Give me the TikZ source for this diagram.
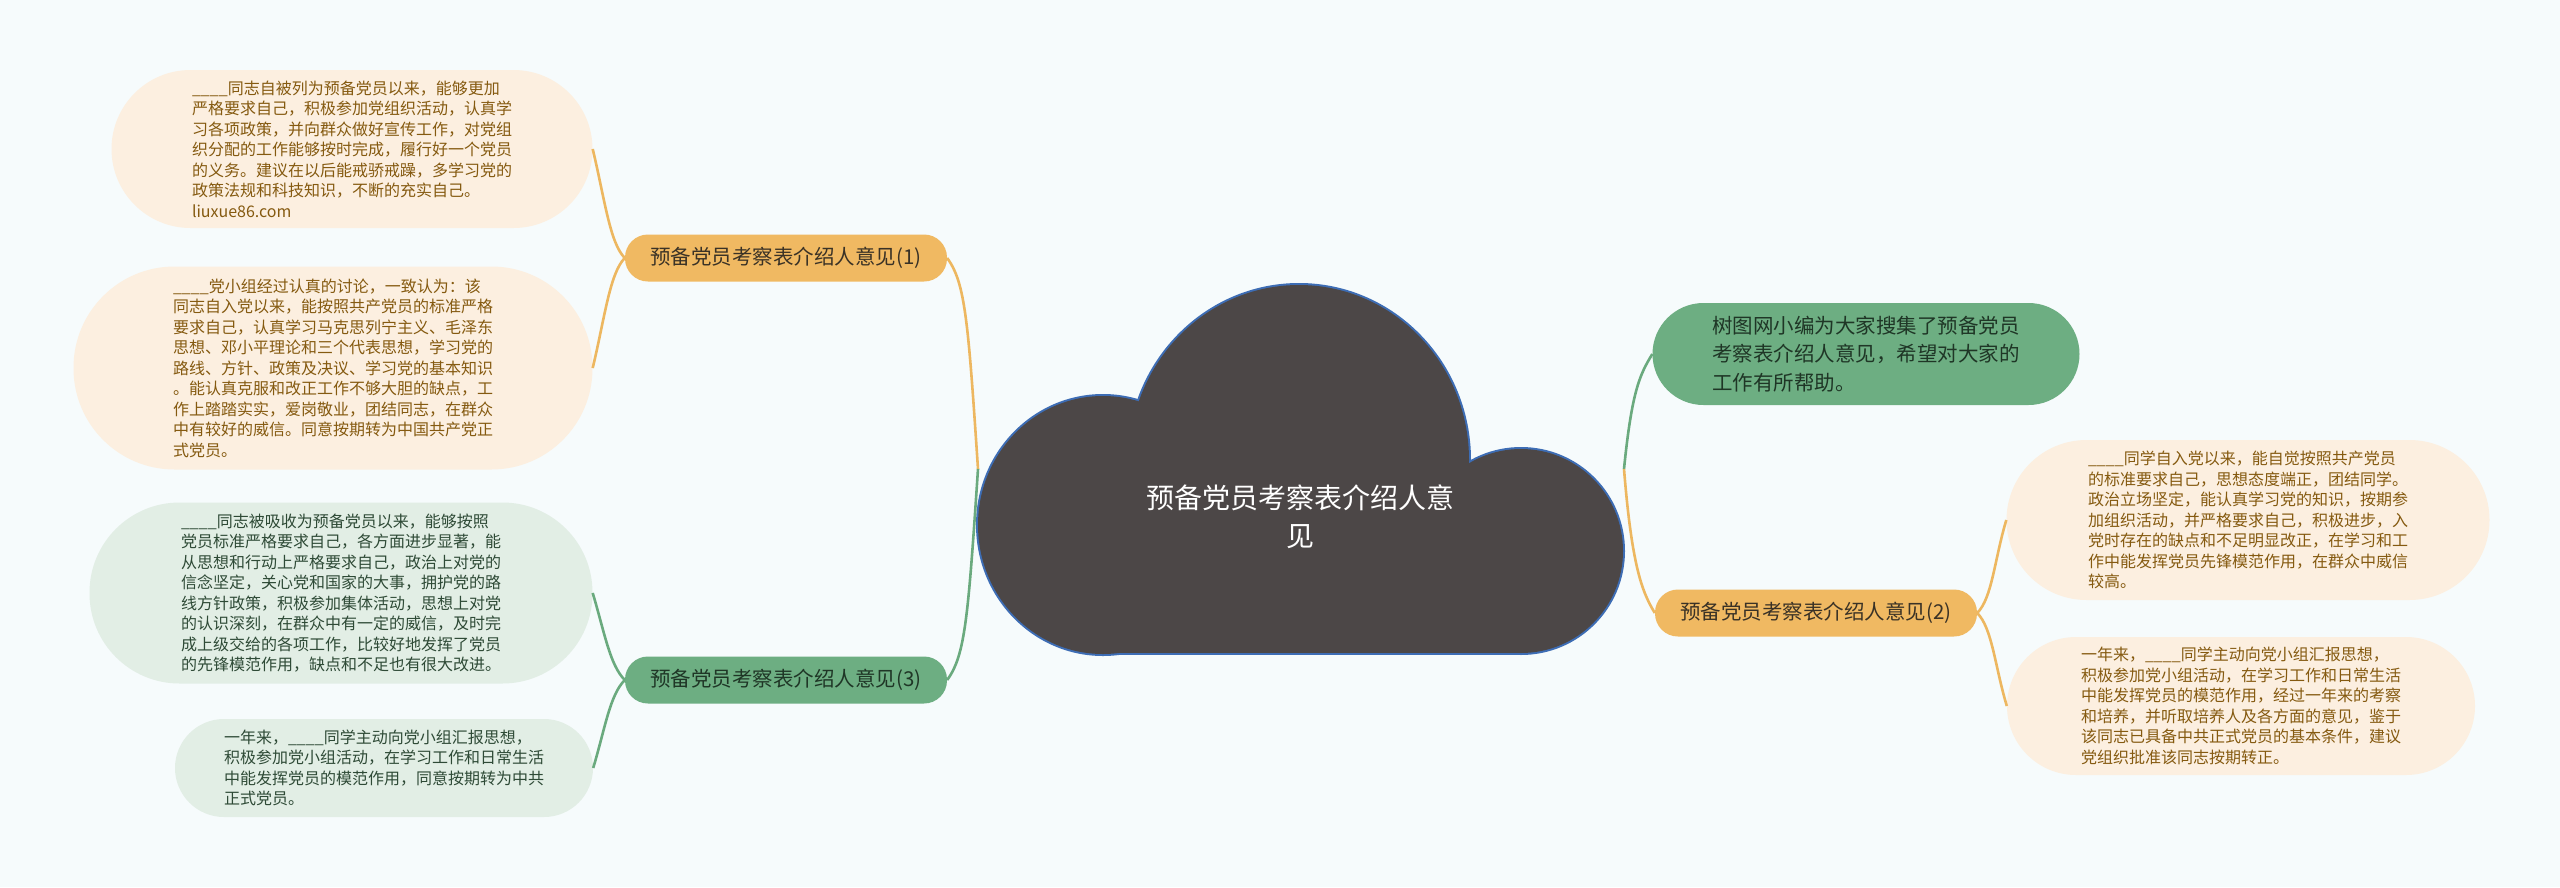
\documentclass[tikz,border=0pt]{standalone}
\usepackage{fontspec}
\setmainfont{Noto Sans CJK SC}
\usetikzlibrary{calc}
\definecolor{bgc}{HTML}{F6FBFC}
\definecolor{creamfill}{HTML}{FCEFE0}
\definecolor{creamtext}{HTML}{855A10}
\definecolor{greenleaf}{HTML}{E2EEE5}
\definecolor{greentext}{HTML}{2E4A36}
\definecolor{orangefill}{HTML}{F0B962}
\definecolor{orangeline}{HTML}{EDB760}
\definecolor{greenfill}{HTML}{6DAE82}
\definecolor{greenline}{HTML}{6AAA7E}
\definecolor{darktext}{HTML}{3A3226}
\definecolor{darkgreentext}{HTML}{1F3626}
\definecolor{cloudfill}{HTML}{4C4747}
\definecolor{cloudedge}{HTML}{3D6DB5}
\newcommand{\blank}{\_\_\_\_}
\begin{document}
\begin{tikzpicture}[x=1pt,y=-1pt,
  leafbase/.style={rectangle, inner sep=0pt, align=left, font=\fontsize{16}{20.5}\selectfont},
  creamleaf/.style={leafbase, fill=creamfill, text=creamtext},
  greenleafs/.style={leafbase, fill=greenleaf, text=greentext},
  branchbase/.style={rectangle, inner sep=0pt, minimum width=322pt, minimum height=47pt, rounded corners=23pt, font=\fontsize{20.5}{26}\selectfont},
  obranch/.style={branchbase, fill=orangefill, text=darktext},
  gbranch/.style={branchbase, fill=greenfill, text=darkgreentext},
  oline/.style={draw=orangeline, line width=2.6pt},
  gline/.style={draw=greenline, line width=2.6pt},
]
\fill[bgc] (0,0) rectangle (2560,887);
\useasboundingbox (0,0) rectangle (2560,887);

% cloud
\begin{scope}
\draw[cloudedge, line width=4pt] (1299,460) ellipse [x radius=170, y radius=175];
\draw[cloudedge, line width=4pt] (1103,525) ellipse [x radius=125, y radius=129];
\draw[cloudedge, line width=4pt] (1521,551) circle [radius=102];
\draw[cloudedge, line width=4pt] (1103,500) rectangle (1521,653);
\fill[cloudfill] (1299,460) ellipse [x radius=170, y radius=175];
\fill[cloudfill] (1103,525) ellipse [x radius=125, y radius=129];
\fill[cloudfill] (1521,551) circle [radius=102];
\fill[cloudfill] (1103,500) rectangle (1521,653);
\end{scope}
\node[text=white, align=center, font=\fontsize{28}{38}\selectfont] (center) at (1300,517) {预备党员考察表介绍人意\\见};
\coordinate (cL) at (978,469);
\coordinate (cR) at (1624,469);

% branches
\node[obranch] (B1) at (786,258) {预备党员考察表介绍人意见(1)};
\node[gbranch] (B3) at (786,680) {预备党员考察表介绍人意见(3)};
\node[obranch] (B2) at (1816,613) {预备党员考察表介绍人意见(2)};

% right intro
\node[rectangle, inner sep=0pt, fill=greenfill, text=darkgreentext, align=left,
  minimum width=427pt, minimum height=102pt, rounded corners=51pt,
  font=\fontsize{20.5}{28.5}\selectfont] (R0) at (1866,354)
  {树图网小编为大家搜集了预备党员\\考察表介绍人意见，希望对大家的\\工作有所帮助。};

% leaves
\node[creamleaf, minimum width=481pt, minimum height=158pt, rounded corners=79pt] (L1) at (352,149)
{\blank 同志自被列为预备党员以来，能够更加\\
严格要求自己，积极参加党组织活动，认真学\\
习各项政策，并向群众做好宣传工作，对党组\\
织分配的工作能够按时完成，履行好一个党员\\
的义务。建议在以后能戒骄戒躁，多学习党的\\
政策法规和科技知识，不断的充实自己。\\
liuxue86.com};

\node[creamleaf, minimum width=519pt, minimum height=203pt, rounded corners=101pt] (L2) at (333,368)
{\blank 党小组经过认真的讨论，一致认为：该\\
同志自入党以来，能按照共产党员的标准严格\\
要求自己，认真学习马克思列宁主义、毛泽东\\
思想、邓小平理论和三个代表思想，学习党的\\
路线、方针、政策及决议、学习党的基本知识\\
。能认真克服和改正工作不够大胆的缺点，工\\
作上踏踏实实，爱岗敬业，团结同志，在群众\\
中有较好的威信。同意按期转为中国共产党正\\
式党员。};

\node[greenleafs, minimum width=503pt, minimum height=181pt, rounded corners=90pt] (L3) at (341,593)
{\blank 同志被吸收为预备党员以来，能够按照\\
党员标准严格要求自己，各方面进步显著，能\\
从思想和行动上严格要求自己，政治上对党的\\
信念坚定，关心党和国家的大事，拥护党的路\\
线方针政策，积极参加集体活动，思想上对党\\
的认识深刻，在群众中有一定的威信，及时完\\
成上级交给的各项工作，比较好地发挥了党员\\
的先锋模范作用，缺点和不足也有很大改进。};

\node[greenleafs, minimum width=418pt, minimum height=98pt, rounded corners=49pt] (L4) at (384,768)
{一年来，\blank 同学主动向党小组汇报思想，\\
积极参加党小组活动，在学习工作和日常生活\\
中能发挥党员的模范作用，同意按期转为中共\\
正式党员。};

\node[creamleaf, minimum width=483pt, minimum height=160pt, rounded corners=80pt] (R1) at (2248,520)
{\blank 同学自入党以来，能自觉按照共产党员\\
的标准要求自己，思想态度端正，团结同学。\\
政治立场坚定，能认真学习党的知识，按期参\\
加组织活动，并严格要求自己，积极进步，入\\
党时存在的缺点和不足明显改正，在学习和工\\
作中能发挥党员先锋模范作用，在群众中威信\\
较高。};

\node[creamleaf, minimum width=468pt, minimum height=138pt, rounded corners=69pt] (R2) at (2241,706)
{一年来，\blank 同学主动向党小组汇报思想，\\
积极参加党小组活动，在学习工作和日常生活\\
中能发挥党员的模范作用，经过一年来的考察\\
和培养，并听取培养人及各方面的意见，鉴于\\
该同志已具备中共正式党员的基本条件，建议\\
党组织批准该同志按期转正。};

% connectors
\draw[oline] (cL) .. controls +(-10,-150) and +(18,25) .. (B1.east);
\draw[gline] (cL) .. controls +(-10,150) and +(18,-25) .. (B3.east);
\draw[gline] (cR) .. controls +(8,-80) and +(-12,20) .. (R0.west);
\draw[oline] (cR) .. controls +(8,100) and +(-12,-20) .. (B2.west);

\draw[oline] (B1.west) .. controls +(-15,-15) and +(12,50) .. (L1.east);
\draw[oline] (B1.west) .. controls +(-15,15) and +(12,-50) .. (L2.east);
\draw[gline] (B3.west) .. controls +(-15,-15) and +(12,40) .. (L3.east);
\draw[gline] (B3.west) .. controls +(-15,15) and +(12,-40) .. (L4.east);
\draw[oline] (B2.east) .. controls +(15,-15) and +(-12,40) .. (R1.west);
\draw[oline] (B2.east) .. controls +(15,15) and +(-12,-40) .. (R2.west);
\end{tikzpicture}
\end{document}
